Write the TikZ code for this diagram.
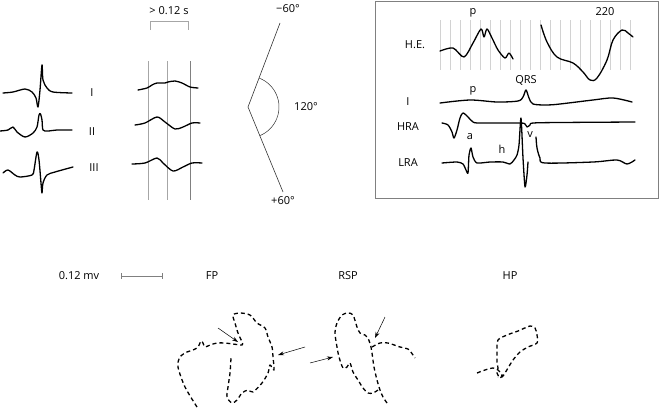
\documentclass[tikz,border=0pt]{standalone}
\usepackage{fontspec}
\setmainfont{Open Sans}
\usetikzlibrary{arrows.meta}
\begin{document}
\begin{tikzpicture}[x=1pt,y=-1pt,
 wave/.style={line width=1.3pt, line join=round, line cap=round},
 gridline/.style={line width=0.8pt, gray!70},
 hegrid/.style={line width=0.8pt, gray!35},
 thin/.style={line width=0.6pt, black!80},
 lbl/.style={font=\fontsize{11}{13}\selectfont, inner sep=0pt},
 dashloop/.style={line width=1.3pt, dash pattern=on 4pt off 3pt, line join=round},
 arr/.style={line width=0.5pt, -{Stealth[length=6pt,width=4pt]}}]
\useasboundingbox (0,0) rectangle (660,407);

% ---- left leads
\draw[wave] plot[smooth, tension=0.5] coordinates {(3,93) (13,92) (25,89) (32,92) (36,98) (38,107) (40,90) (42,65) (43,80) (47,88) (53,92) (72,93)};
\draw[wave] plot[smooth, tension=0.5] coordinates {(0,131) (8,130) (13,127) (17,132) (25,137) (33,133) (37,127) (39,115) (40.5,114) (42,120) (43,130) (48,131) (57,130) (72,130)};
\draw[wave] plot[smooth, tension=0.5] coordinates {(3,173) (8,170) (15,175) (20,177) (32,175) (34,170) (37,152) (39,160) (41,183) (42,193) (43,183) (47,175) (55,172) (73,167)};
\node[lbl] (lI) at (92,93) {I};
\node[lbl] (lII) at (92,132) {II};
\node[lbl] (lIII) at (94,168) {III};

% ---- middle grid
\draw[gridline] (148,61) -- (148,200);
\draw[gridline] (167,61) -- (167,200);
\draw[gridline, gray] (190,61) -- (190,200);
\draw[gridline] (150,30) -- (150,21) -- (188,21) -- (188,30);
\node[lbl] (dur) at (169,11) {> 0.12 s};
\draw[wave] plot[smooth] coordinates {(138,90) (147,88) (152,85) (157,83) (165,83) (168,82) (175,81) (182,83) (190,87) (198,88)};
\draw[wave] plot[smooth] coordinates {(135,125) (145,123) (157,117) (165,122) (175,129) (183,127) (192,123) (200,123)};
\draw[wave] plot[smooth] coordinates {(132,164) (145,163) (157,158) (163,163) (173,171) (183,167) (192,163) (202,163)};

% ---- angle
\draw[thin] (280,23) -- (248,107) -- (283,192);
\draw[thin, line width=0.5pt] (248,107) ++(-69:31) arc[start angle=-69, end angle=68, radius=31];
\node[lbl] (m60) at (288,9) {−60°};
\node[lbl] (p60) at (283,201) {+60°};
\node[lbl] (a120) at (306,107) {120°};

% ---- box
\draw[line width=1pt, gray] (375,1) rectangle (658,198);
\foreach \x in {440,450,...,630} \draw[hegrid] (\x,20) -- (\x,70);
\draw[wave] plot[smooth, tension=0.5] coordinates {(440,51) (453,48) (464,57) (473,43) (481,29) (484,37) (487,29) (492,38) (498,50) (505,58) (509,53) (513,59)};
\draw[wave] plot[smooth, tension=0.6] coordinates {(541,25) (547,42) (557,57) (573,63) (583,72) (590,80) (597,78) (607,60) (613,40) (622,30) (628,33) (633,37)};
\node[lbl] (he) at (415,45) {H.E.};
\node[lbl] (p1) at (473,13) {p};
\node[lbl] (n220) at (605,12) {220};
\node[lbl] (qrs) at (526,80) {QRS};
\node[lbl] (bI) at (408,102) {I};
\node[lbl] (p2) at (473,91) {p};
\node[lbl] (hra) at (408,127) {HRA};
\node[lbl] (la) at (470,137) {a};
\node[lbl] (lh) at (502,149) {h};
\node[lbl] (lv) at (530,135) {v};
\node[lbl] (lra) at (408,163) {LRA};
\draw[wave] plot[smooth, tension=0.5] coordinates {(440,103) (470,100) (497,102) (518,101) (523,97) (526,90) (529,98) (533,104) (547,105) (560,104) (593,100) (613,98) (632,102)};
\draw[wave] plot[smooth, tension=0.5] coordinates {(442,123) (448,125) (452,132) (454,138) (457,130) (460,118) (463,113) (468,117) (473,122) (480,123) (519,123) (525,124) (527,127) (530,125) (533,123) (560,122.5) (635,122)};
\draw[wave] plot[smooth, tension=0.4] coordinates {(442,163) (457,162) (463,164) (466,170) (468,173) (469,155) (471,148) (473,157) (477,163) (490,162) (503,162) (510,164) (514,160) (517,155) (519,145) (521,118) (523,158) (525,187) (527,175) (528,162)};
\draw[wave] plot[smooth, tension=0.5] coordinates {(536,137) (537,148) (540,158) (545,163) (593,162) (617,160) (627,164) (635,160)};

% ---- bottom
\node[lbl] (mv) at (79,276) {0.12 mv};
\draw[line width=0.8pt, gray] (121,276) -- (162,276);
\draw[line width=0.8pt, gray] (121,273) -- (121,279) (162,273) -- (162,279);
\node[lbl] (fp) at (212,276) {FP};
\node[lbl] (rsp) at (348,276) {RSP};
\node[lbl] (hp) at (510,276) {HP};

\draw[dashloop] plot[smooth, tension=0.5] coordinates {(197,407) (185,387) (178,367) (180,357) (187,352) (193,350) (198,347) (201,341) (203,343) (205,347) (210,345) (217,343) (225,343) (233,344) (242,345) (242,342) (238,333) (235,323) (233,315) (240,313) (250,315) (257,323) (265,328) (268,337) (272,347) (273,357) (274,370) (270,365) (268,373) (262,383) (253,392) (248,390) (242,393) (237,400) (232,403) (227,397) (228,387) (230,373) (231,358)};
\coordinate (fa1) at (218,328); \coordinate (fb1) at (238,342);
\coordinate (fa2) at (305,347); \coordinate (fb2) at (278,355);
\draw[arr] (fa1) -- (fb1);
\draw[arr] (fa2) -- (fb2);

\draw[dashloop] plot[smooth, tension=0.5] coordinates {(387,403) (383,397) (380,390) (377,380) (374,367) (372,353) (371,347) (368,338) (365,335) (360,333) (357,327) (353,315) (348,313) (342,315) (337,323) (335,333) (337,347) (339,357) (343,368) (347,367) (350,363) (353,372) (358,380) (363,388) (368,393) (373,393) (378,390)};
\draw[dashloop] plot[smooth, tension=0.5] coordinates {(372,347) (380,343) (388,343) (400,347) (408,349) (413,355) (415,358)};
\coordinate (ra1) at (385,317); \coordinate (rb1) at (375,338);
\coordinate (ra2) at (310,363); \coordinate (rb2) at (333,357);
\draw[arr] (ra1) -- (rb1);
\draw[arr] (ra2) -- (rb2);

\draw[dashloop] plot[smooth, tension=0.5] coordinates {(477,373) (485,370) (493,368) (498,370) (502,375) (500,378) (497,373) (498,368) (497,362) (497,350) (498,340) (507,335) (518,331) (530,326) (535,328) (537,335) (537,343) (528,347) (520,352) (513,360) (508,368) (505,373) (502,377) (498,377)};
\end{tikzpicture}
\end{document}
